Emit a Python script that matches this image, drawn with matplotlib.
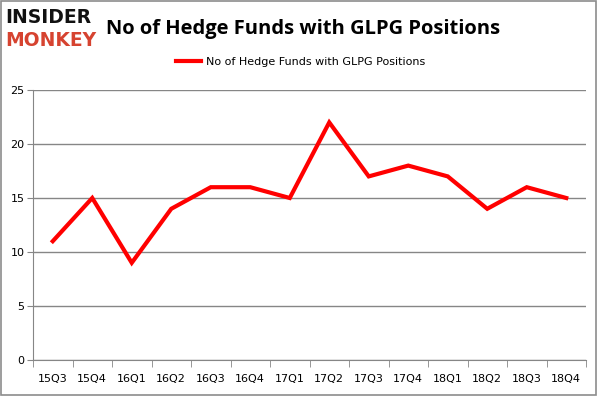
import numpy as np
import matplotlib
matplotlib.use("Agg")
import matplotlib.pyplot as plt
from matplotlib.patches import Rectangle

# Hedge fund counts per quarter
quarters = ["15Q3", "15Q4", "16Q1", "16Q2", "16Q3", "16Q4", "17Q1",
            "17Q2", "17Q3", "17Q4", "18Q1", "18Q2", "18Q3", "18Q4"]
funds = [11, 15, 9, 14, 16, 16, 15, 22, 17, 18, 17, 14, 16, 15]
yticks = [0, 5, 10, 15, 20, 25]

SERIES = "No of Hedge Funds with GLPG Positions"
GRID = "#868686"

fig = plt.figure(figsize=(6.01, 3.96), dpi=100)
ax = fig.add_axes([33 / 601, 36 / 396, 553 / 601, 270 / 396])

x = np.arange(len(quarters))
ax.plot(x, funds, color="#ff0000", linewidth=3.0, solid_joinstyle="miter",
        label=SERIES)

ax.set_xlim(-0.5, len(quarters) - 0.5)
ax.set_ylim(0, 25)
ax.set_yticks(yticks)
ax.set_xticks(x)
ax.set_xticklabels(quarters, fontsize=8, family="DejaVu Sans")
ax.tick_params(axis="x", length=0, pad=10)
ax.tick_params(axis="y", length=4, color=GRID, labelsize=8, pad=2)
# category boundary ticks below x axis
ax.set_xticks(np.arange(-0.5, len(quarters)), minor=True)
ax.tick_params(axis="x", which="minor", length=5, color=GRID, direction="out")

ax.grid(axis="y", color=GRID, linewidth=1)
ax.set_axisbelow(True)
for s in ("top", "right"):
    ax.spines[s].set_visible(False)
for s in ("left", "bottom"):
    ax.spines[s].set_color(GRID)

fig.text(0.505, 0.928, SERIES, ha="center", va="center", fontsize=14.5,
         fontweight="bold", family="Open Sans")
fig.legend(loc="center", bbox_to_anchor=(0.5, 0.843), frameon=False,
           fontsize=8, handlelength=2.3, handletextpad=0.4)

# logo
fig.text(0.009, 0.955, "INSIDER", ha="left", va="center", fontsize=13.5,
         fontweight="heavy", family="DejaVu Sans", color="#111111")
fig.text(0.009, 0.898, "MONKEY", ha="left", va="center", fontsize=13.5,
         fontweight="heavy", family="DejaVu Sans", color="#d64330")

fig.patches.append(Rectangle((0.002, 0.003), 0.99, 0.994, transform=fig.transFigure,
                             fill=False, edgecolor="#8c8c8c", linewidth=1.2))

fig.savefig("out.png", dpi=100)
